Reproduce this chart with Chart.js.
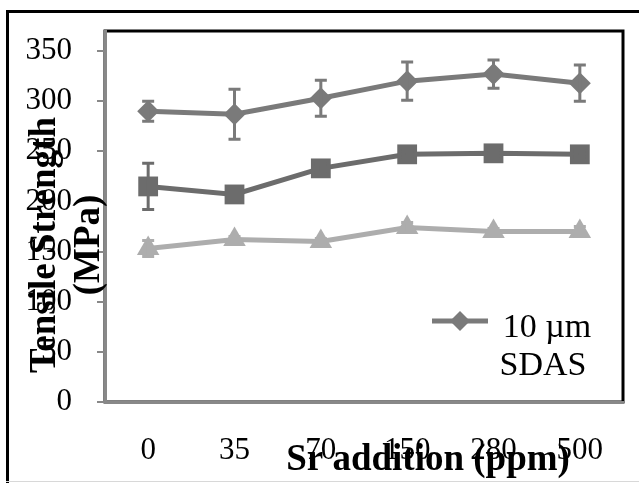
<!DOCTYPE html>
<html>
<head>
<meta charset="utf-8">
<script src="https://cdn.jsdelivr.net/npm/chart.js@4.4.1/dist/chart.umd.min.js"></script>
<style>
  body { margin: 0; background: white; }
  #wrap { width: 639px; height: 483px; }
</style>
</head>
<body>
<div id="wrap"><canvas id="chart" width="639" height="483"></canvas></div>
<script>
// data
const srAddition = ['0', '35', '70', '150', '280', '500'];
const yTicks = [0, 50, 100, 150, 200, 250, 300, 350];

const sdas10 = [290, 287, 303, 320, 327, 318];
const sdas10Err = [10, 25, 18, 19, 14, 18];

const seriesMid = [215, 207, 233, 247, 248, 247];
const seriesMidErr = [23, 4, 4, 3, 3, 3];

const seriesLow = [153, 162, 160, 174, 170, 170];
const seriesLowErr = [8, 3, 3, 5, 3, 5];

const legendLines = ['10 \u00b5m', 'SDAS'];

const serif = '"Liberation Serif", "Times New Roman", serif';

// white background, outer frame and plot box
const framePlugin = {
    id: 'frame',
    beforeDraw(chart) {
        const ctx = chart.ctx;
        const a = chart.chartArea;
        ctx.save();
        ctx.fillStyle = '#fff';
        ctx.fillRect(0, 0, chart.width, chart.height);
        ctx.fillStyle = '#000';
        ctx.fillRect(6, 10, 3, chart.height - 10);
        ctx.fillRect(6, 10, chart.width - 6, 3);
        ctx.fillStyle = '#d8d8d8';
        ctx.fillRect(6, chart.height - 2, chart.width - 6, 1);
        ctx.strokeStyle = '#000';
        ctx.lineWidth = 3;
        ctx.strokeRect(a.left, a.top, a.right - a.left, a.bottom - a.top);
        ctx.restore();
    }
};

// error bars from the err arrays, through the y scale
const errorBarPlugin = {
    id: 'errorBars',
    afterDatasetsDraw(chart) {
        const ctx = chart.ctx;
        const y = chart.scales.y;
        chart.data.datasets.forEach((ds, i) => {
            const meta = chart.getDatasetMeta(i);
            ctx.save();
            ctx.strokeStyle = ds.borderColor;
            ctx.lineWidth = 3;
            meta.data.forEach((pt, j) => {
                const e = ds.errors[j];
                const top = y.getPixelForValue(ds.data[j] + e);
                const bot = y.getPixelForValue(ds.data[j] - e);
                ctx.beginPath();
                ctx.moveTo(pt.x, top);
                ctx.lineTo(pt.x, bot);
                ctx.moveTo(pt.x - 6, top);
                ctx.lineTo(pt.x + 6, top);
                ctx.moveTo(pt.x - 6, bot);
                ctx.lineTo(pt.x + 6, bot);
                ctx.stroke();
            });
            ctx.restore();
        });
    }
};

// titles overlapping the tick labels, and the one-entry legend
const textPlugin = {
    id: 'texts',
    afterDraw(chart) {
        const ctx = chart.ctx;
        ctx.save();
        ctx.fillStyle = '#000';

        // y title
        ctx.font = 'bold 37px ' + serif;
        ctx.textAlign = 'center';
        ctx.textBaseline = 'alphabetic';
        [['Tensile Strength', 55], ['(MPa)', 99]].forEach(([t, x]) => {
            ctx.save();
            ctx.translate(x, 245);
            ctx.rotate(-Math.PI / 2);
            ctx.fillText(t, 0, 0);
            ctx.restore();
        });

        // x title
        ctx.font = 'bold 37px ' + serif;
        ctx.fillText('Sr addition (ppm)', 428, 470);

        // legend
        const ds = chart.data.datasets[0];
        ctx.strokeStyle = ds.borderColor;
        ctx.lineWidth = 5;
        ctx.beginPath();
        ctx.moveTo(432, 321);
        ctx.lineTo(488, 321);
        ctx.stroke();
        ctx.fillStyle = ds.backgroundColor;
        ctx.beginPath();
        ctx.moveTo(460, 311);
        ctx.lineTo(470, 321);
        ctx.lineTo(460, 331);
        ctx.lineTo(450, 321);
        ctx.closePath();
        ctx.fill();

        ctx.fillStyle = '#000';
        ctx.font = '34px ' + serif;
        ctx.fillText(legendLines[0], 547, 337);
        ctx.fillText(legendLines[1], 543, 375);
        ctx.restore();
    }
};

const makeSet = (label, data, errors, color, style, radius) => ({
    label,
    data,
    errors,
    borderColor: color,
    backgroundColor: color,
    borderWidth: 5,
    pointStyle: style,
    pointRadius: radius,
    pointHoverRadius: radius,
    pointBorderWidth: 0,
    tension: 0
});

new Chart(document.getElementById('chart'), {
    type: 'line',
    data: {
        labels: srAddition,
        datasets: [
            makeSet('10 \u00b5m SDAS', sdas10, sdas10Err, '#7a7a7a', 'rectRot', 11),
            makeSet('mid', seriesMid, seriesMidErr, '#6c6c6c', 'rect', 14),
            makeSet('low', seriesLow, seriesLowErr, '#adadad', 'triangle', 13)
        ]
    },
    options: {
        responsive: false,
        animation: false,
        devicePixelRatio: 1,
        layout: { padding: { left: 0, top: 31, right: 16, bottom: 0 } },
        plugins: {
            legend: { display: false },
            tooltip: { enabled: false }
        },
        scales: {
            x: {
                offset: true,
                afterFit: s => { s.height = 81; s.paddingLeft = 0; s.paddingRight = 0; },
                grid: { display: false },
                border: { display: true, color: '#888', width: 3 },
                ticks: {
                    color: '#000',
                    padding: 22,
                    font: { family: serif, size: 31 }
                }
            },
            y: {
                min: 0,
                max: 370,
                afterFit: s => { s.width = 105; s.paddingTop = 0; s.paddingBottom = 0; },
                afterBuildTicks: s => { s.ticks = yTicks.map(v => ({ value: v })); },
                grid: { drawOnChartArea: false, drawTicks: true, tickLength: 8, color: '#888', lineWidth: 2 },
                border: { display: true, color: '#888', width: 3 },
                ticks: {
                    color: '#000',
                    padding: 25,
                    includeBounds: false,
                    font: { family: serif, size: 31 }
                }
            }
        }
    },
    plugins: [framePlugin, errorBarPlugin, textPlugin]
});
</script>
</body>
</html>
